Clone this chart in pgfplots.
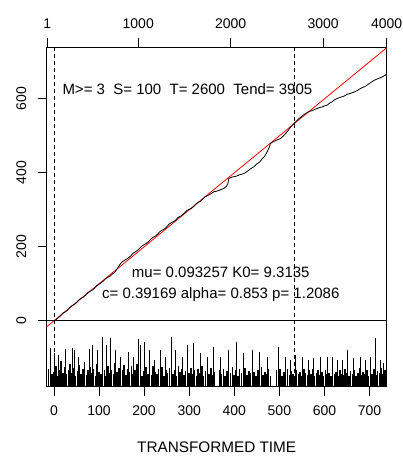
\documentclass[border=0pt]{standalone}
\usepackage{fontspec}
\setmainfont{Liberation Sans}
\usepackage{pgfplots}
\pgfplotsset{compat=1.18}
\pgfplotsset{
  rbase/.style={
    scale only axis, width=340pt, height=339.7pt,
    xmin=-16, xmax=738,
    tick align=outside, major tick length=9pt,
    tick style={black, line width=0.8pt},
    axis line style={black, line width=0.8pt},
    tick label style={font=\fontsize{14}{16}\selectfont},
    /pgf/number format/assume math mode=true,
  },
}
\newcommand{\lab}{\fontsize{15}{17}\selectfont}

\begin{document}
\begin{tikzpicture}
% main axis: cumulative number vs transformed time
\begin{axis}[rbase,
  ymin=-178, ymax=740,
  xtick={0,100,...,700}, ytick={0,200,400,600},
  xtick pos=bottom, ytick pos=left,
  xticklabel shift=6pt,
  yticklabel shift=8pt,
  yticklabel style={rotate=90, anchor=south},
  xlabel={TRANSFORMED TIME},
  xlabel style={font=\fontsize{15.3}{17}\selectfont, at={(axis description cs:0.5,0)}, anchor=center, yshift=-61pt},
]
\addplot[black, line width=0.8pt, dash pattern=on 4pt off 3pt] coordinates {(0,-178) (0,740)};
\addplot[black, line width=0.8pt, dash pattern=on 4pt off 3pt] coordinates {(534,-178) (534,740)};
\addplot[black, line width=0.8pt] coordinates {(-16,0) (738,0)};
\addplot[red, line width=0.8pt] coordinates {(-16,-16) (738,738)};
\addplot[black, line width=0.8pt] coordinates {
 (0,0) (5,3) (10,9) (15,14) (20,21) (25,24) (30,29) (35,36) (40,41) (45,44)
 (50,49) (55,56) (60,61) (65,64) (70,69) (75,76) (80,80) (85,83) (90,88) (95,95)
 (100,99) (105,103) (110,108) (115,114) (120,118) (125,121) (130,127) (135,131)
 (140,140) (145,150) (150,158) (157,164) (163,168) (170,175) (175,182) (180,186)
 (185,190) (190,196) (195,202) (200,206) (205,209) (210,214) (215,221) (220,226)
 (225,229) (230,234) (235,241) (240,245) (245,248) (250,254) (255,261) (260,265)
 (265,268) (270,272) (275,279) (280,282) (285,286) (290,292) (295,298) (300,301)
 (305,304) (310,309) (315,316) (320,320) (325,323) (330,329) (335,335) (340,338)
 (345,341) (350,345) (355,349) (360,350) (365,352) (371,355) (377,358) (383,364)
 (386,372) (388,385) (394,388) (400,390) (405,391) (410,394) (416,396) (421,398)
 (428,403) (435,410) (443,416) (451,425) (457,430) (462,438) (468,446) (473,457)
 (478,470) (480,479) (485,483) (490,486) (497,490) (503,493) (509,500) (515,508)
 (520,515) (525,524) (530,530) (536,538) (541,544) (547,550) (553,556) (559,561)
 (565,565) (572,568) (580,572) (588,576) (595,578) (600,581) (606,583) (612,589)
 (617,592) (622,597) (628,601) (635,604) (643,607) (650,612) (658,615) (665,618)
 (672,622) (680,628) (687,632) (692,635) (698,640) (704,645) (710,650) (716,653)
 (722,656) (728,659) (735,664) (738,666)};
\node[font=\lab] at (axis cs:296,626) {M>= 3\ \ S= 100\ \ T= 2600\ \ Tend= 3905};
\node[font=\lab] at (axis cs:370,130) {mu= 0.093257 K0= 9.3135};
\node[font=\lab] at (axis cs:370,71) {c= 0.39169 alpha= 0.853 p= 1.2086};
\end{axis}

% event bars along the bottom
\begin{axis}[rbase, ymin=0, ymax=918, hide axis]
\addplot[ycomb, black, line width=1.6pt, mark=none] coordinates {
 (-12,48) (-8,62) (-4,35) (0,40) (4,55) (8,30) (12,44) (16,70) (20,38) (24,52)
 (28,33) (32,46) (36,60) (40,36) (44,50) (48,28) (52,42) (56,58) (60,34) (64,47)
 (68,66) (72,31) (76,45) (80,54) (84,37) (88,49) (92,30) (96,61) (100,41) (104,35)
 (108,52) (112,44) (116,29) (120,57) (124,38) (128,46) (132,33) (136,63) (140,40)
 (144,51) (148,36) (152,44) (156,58) (160,32) (164,47) (168,39) (172,55) (176,34)
 (180,45) (184,60) (188,37) (192,49) (196,30) (200,43) (204,52) (208,35) (212,46)
 (216,31) (220,57) (224,40) (228,33) (232,48) (236,38) (240,54) (244,29) (248,44)
 (252,36) (256,50) (264,34) (268,45) (272,30) (276,56) (280,39) (284,47) (288,32)
 (292,42) (300,36) (304,51) (308,33) (312,44) (316,28) (320,48) (324,37) (328,55)
 (332,30) (336,43) (344,35) (348,50) (352,31) (356,40) (368,45) (372,33) (376,49)
 (380,30) (384,42) (392,36) (396,52) (400,32) (404,44) (408,29) (412,47) (416,38)
 (420,33) (424,50) (428,31) (432,43) (436,36) (444,40) (448,30) (452,46) (456,34)
 (460,52) (464,31) (468,41) (472,35) (476,48) (480,30) (494,44) (498,33) (502,47)
 (506,30) (510,40) (514,36) (518,49) (522,32) (526,42) (530,35) (534,30) (538,45)
 (542,33) (546,40) (550,29) (554,47) (558,36) (562,31) (566,44) (570,33) (574,49)
 (578,30) (582,38) (586,45) (590,32) (594,40) (598,28) (602,46) (606,34) (610,37)
 (614,30) (618,48) (622,33) (626,41) (630,29) (634,44) (638,35) (642,31) (646,47)
 (650,36) (654,30) (658,42) (662,33) (666,45) (670,29) (674,38) (678,50) (682,32)
 (686,40) (690,34) (694,46) (698,30) (702,41) (706,35) (710,48) (714,31) (718,43)
 (722,36) (726,50) (730,33) (734,45) (737,38)};
\addplot[ycomb, black, line width=1.0pt, mark=none] coordinates {
 (-7,104) (1,90) (11,86) (26,101) (41,104) (46,99) (55,81) (78,101) (85,113)
 (96,99) (107,135) (117,113) (126,131) (137,99) (148,81) (166,95) (177,81)
 (188,128) (192,113) (201,122) (211,99) (222,72) (237,99) (248,81) (260,135)
 (270,99) (285,81) (296,113) (310,117) (325,90) (340,81) (355,108) (370,81)
 (388,99) (406,122) (421,90) (440,99) (455,95) (473,81) (499,108) (514,81)
 (525,72) (536,86) (551,81) (565,72) (576,77) (591,81) (606,79) (617,81)
 (628,72) (639,72) (650,99) (665,77) (680,81) (691,72) (702,81) (713,131)
 (724,72) (732,63)};
\end{axis}

% original time scale on top
\begin{axis}[rbase, ymin=0, ymax=1,
  axis x line*=top, axis y line=none,
  xtick={-15,187,392,597,738},
  xticklabels={1,1000,2000,3000,4000},
  extra x ticks={-13.5}, extra x tick labels={},
  xticklabel shift=6pt,
]
\end{axis}
\pgfresetboundingbox
\path[use as bounding box] ([xshift=-46.7pt,yshift=-69.3pt]current axis.south west) rectangle ++(403pt,456pt);
\end{tikzpicture}
\end{document}
